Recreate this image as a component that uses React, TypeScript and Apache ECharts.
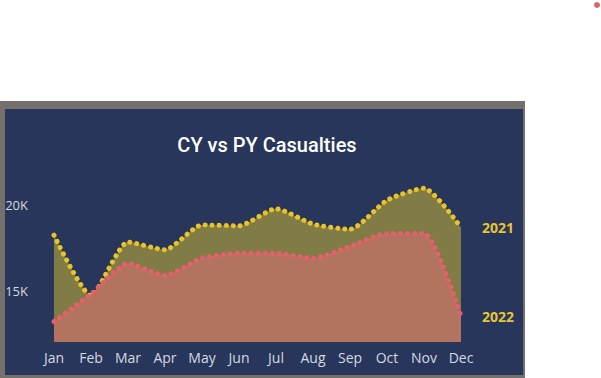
import React, { useEffect, useRef } from "react";
import * as echarts from "echarts";

const months = ["Jan", "Feb", "Mar", "Apr", "May", "Jun", "Jul", "Aug", "Sep", "Oct", "Nov", "Dec"];
const py2021 = [18250, 14700, 17850, 17400, 18850, 18800, 19800, 18900, 18600, 20300, 21000, 18700];
const cy2022 = [13200, 14800, 16600, 15900, 16900, 17200, 17200, 16900, 17600, 18350, 18350, 13500];
const yLabelValues = [15000, 20000];

export default function App() {
  const ref = useRef<HTMLDivElement>(null);
  useEffect(() => {
    document.body.style.margin = "0";
    const chart = echarts.init(ref.current!, null, { renderer: "svg" });
    chart.setOption({
      animation: false,
      backgroundColor: "#ffffff",
      graphic: [
        { type: "circle", shape: { cx: 597, cy: 5, r: 3 }, style: { fill: "#D9646B" }, z: -10 },
        { type: "rect", shape: { x: 0, y: 101, width: 525, height: 277 }, style: { fill: "#75706C" }, z: -10 },
        { type: "rect", shape: { x: 5, y: 109, width: 518, height: 266 }, style: { fill: "#27365A" }, z: -9 },
      ],
      title: {
        text: "CY vs PY Casualties",
        left: 262,
        top: 130,
        textAlign: "center",
        textStyle: { color: "#ffffff", fontSize: 20, fontWeight: 500, fontFamily: "Roboto" },
      },
      grid: { left: 54, right: 140, top: 137, bottom: 36 },
      xAxis: {
        type: "category",
        data: months,
        boundaryGap: false,
        axisLine: { show: false },
        axisTick: { show: false },
        axisLabel: { color: "#D6D9E0", fontSize: 14, fontFamily: "Open Sans", margin: 8 },
      },
      yAxis: {
        type: "value",
        min: 12000,
        max: 24000,
        interval: 1000,
        splitLine: { show: false },
        axisLine: { show: false },
        axisTick: { show: false },
        axisLabel: {
          color: "#D8D8D8",
          fontSize: 13,
          fontFamily: "Open Sans",
          margin: 26,
          formatter: (v: number) => (yLabelValues.includes(v) ? v / 1000 + "K" : ""),
        },
      },
      series: [
        {
          name: "2021",
          type: "line",
          data: py2021,
          smooth: 0.2,
          symbol: "none",
          z: 2,
          lineStyle: { color: "#E8C32A", width: 5, type: [0.1, 6.9], cap: "round" },
          areaStyle: { color: "#817B45", opacity: 1 },
          endLabel: {
            show: true,
            formatter: "{a}",
            distance: 21,
            color: "#E9C531",
            fontSize: 14,
            fontWeight: "bold",
            fontFamily: "Open Sans",
          },
        },
        {
          name: "2022",
          type: "line",
          data: cy2022,
          smooth: 0.2,
          symbol: "none",
          z: 3,
          lineStyle: { color: "#E5606C", width: 5, type: [0.1, 6.9], cap: "round" },
          areaStyle: { color: "#B2735F", opacity: 1 },
          endLabel: {
            show: true,
            formatter: "{a}",
            distance: 21,
            color: "#E9C531",
            fontSize: 14,
            fontWeight: "bold",
            fontFamily: "Open Sans",
          },
        },
      ],
    });
    return () => chart.dispose();
  }, []);
  return <div ref={ref} style={{ width: 601, height: 378 }} />;
}
